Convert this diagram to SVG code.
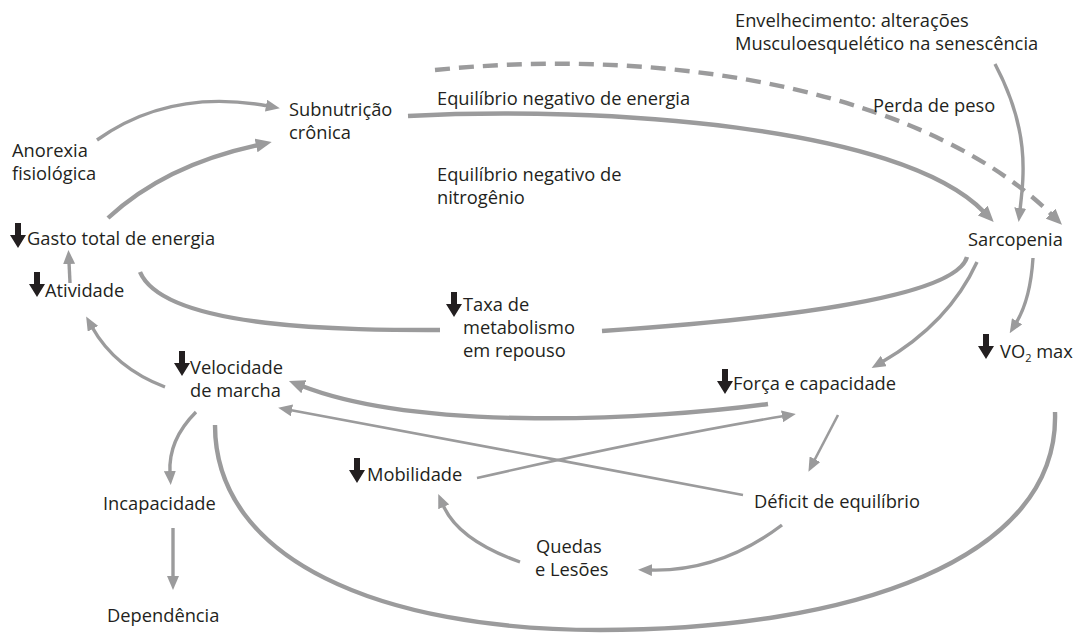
<svg xmlns="http://www.w3.org/2000/svg" width="1086" height="633" viewBox="0 0 1086 633">
<defs>
<style>
.t{font-family:"Open Sans","Liberation Sans",sans-serif;font-size:18.3px;fill:#231f20}
.c{fill:none;stroke:#9b9b9c;stroke-linecap:butt}
.w1{stroke-width:2.6}
.w2{stroke-width:3.4}
.w3{stroke-width:4.4}
.d{stroke-dasharray:15 9}
.da{fill:#231f20}
</style>
<marker id="ah" viewBox="0 0 14 12" refX="2" refY="6" markerWidth="14" markerHeight="12" markerUnits="userSpaceOnUse" orient="auto"><path d="M0,0 L14,6 L0,12 Z" fill="#9b9b9c"/></marker>
<marker id="ahL" viewBox="0 0 16 14" refX="2" refY="7" markerWidth="16" markerHeight="14" markerUnits="userSpaceOnUse" orient="auto"><path d="M0,0 L16,7 L0,14 Z" fill="#9b9b9c"/></marker>
<path id="down" d="M-3,0 h6 v12 h5 l-8,13 l-8,-13 h5 z"/>
</defs>
<rect width="1086" height="633" fill="#fff"/>
<g id="connectors">
<path class="c w2" d="M97,140 Q170,88 268,106" marker-end="url(#ah)"/>
<path class="c w3" d="M108,218 Q165,165 258,145" marker-end="url(#ahL)"/>
<path class="c w3" d="M408,116 C600,106 900,125 984,212" marker-end="url(#ahL)"/>
<path class="c w3 d" d="M435,70 C680,45 930,95 1052,215" marker-end="url(#ahL)"/>
<path class="c w2" d="M995,64 C1030,130 1024,175 1020,210" marker-end="url(#ah)"/>
<path class="c w3" d="M140,272 C165,330 350,330 440,330"/>
<path class="c w3" d="M602,331 C760,320 955,300 967,257"/>
<path class="c w2" d="M977,262 C955,310 920,340 882,362" marker-end="url(#ah)"/>
<path class="c w2" d="M1033,258 C1031,290 1024,310 1016,323" marker-end="url(#ah)"/>
<path class="c w3" d="M215,425 C215,560 380,630 600,630 C850,630 1060,560 1055,412"/>
<path class="c w3" d="M768,404 C650,420 420,432 302,386" marker-end="url(#ahL)"/>
<path class="c w1" d="M743,495 C600,468 400,430 290,410" marker-end="url(#ah)"/>
<path class="c w1" d="M477,478 C600,450 700,430 784,416" marker-end="url(#ah)"/>
<path class="c w1" d="M838,415 L814,461" marker-end="url(#ah)"/>
<path class="c w2" d="M782,525 Q720,572 650,570" marker-end="url(#ah)"/>
<path class="c w2" d="M520,562 Q458,540 443,505" marker-end="url(#ah)"/>
<path class="c w2" d="M196,412 Q168,440 170,473" marker-end="url(#ah)"/>
<path class="c w2" d="M173,528 L173,578" marker-end="url(#ah)"/>
<path class="c w2" d="M165,387 Q115,368 92,327" marker-end="url(#ah)"/>
<path class="c w2" d="M70,283 L69,262" marker-end="url(#ah)"/>
</g>
<g id="envelhecimento"><text class="t" x="735" y="27">Envelhecimento: alterações</text><text class="t" x="735" y="50">Musculoesquelético na senescência</text></g>
<g id="subnutricao"><text class="t" x="289" y="116">Subnutrição</text><text class="t" x="289" y="139">crônica</text></g>
<g id="eq-energia"><text class="t" x="437" y="105">Equilíbrio negativo de energia</text></g>
<g id="perda-peso"><text class="t" x="873" y="112">Perda de peso</text></g>
<g id="anorexia"><text class="t" x="12" y="157">Anorexia</text><text class="t" x="12" y="180">fisiológica</text></g>
<g id="eq-nitrogenio"><text class="t" x="437" y="181">Equilíbrio negativo de</text><text class="t" x="437" y="204">nitrogênio</text></g>
<g id="gasto"><use href="#down" class="da" x="18" y="223"/><text class="t" x="27" y="245">Gasto total de energia</text></g>
<g id="sarcopenia"><text class="t" x="968" y="246">Sarcopenia</text></g>
<g id="atividade"><use href="#down" class="da" x="37" y="272"/><text class="t" x="45" y="297">Atividade</text></g>
<g id="taxa"><use href="#down" class="da" x="454" y="292"/><text class="t" x="463" y="311">Taxa de</text><text class="t" x="463" y="334">metabolismo</text><text class="t" x="463" y="357">em repouso</text></g>
<g id="vo2"><use href="#down" class="da" x="986" y="334"/><text class="t" x="1000" y="358">VO<tspan font-size="11" dy="4">2</tspan><tspan dy="-4">  max</tspan></text></g>
<g id="velocidade"><use href="#down" class="da" x="182" y="351"/><text class="t" x="190" y="374">Velocidade</text><text class="t" x="190" y="397">de marcha</text></g>
<g id="forca"><use href="#down" class="da" x="725" y="369"/><text class="t" x="733" y="390">Força e capacidade</text></g>
<g id="mobilidade"><use href="#down" class="da" x="357" y="458"/><text class="t" x="367" y="481">Mobilidade</text></g>
<g id="incapacidade"><text class="t" x="103" y="510">Incapacidade</text></g>
<g id="deficit"><text class="t" x="754" y="508">Déficit de equilíbrio</text></g>
<g id="quedas"><text class="t" x="536" y="553">Quedas</text><text class="t" x="535" y="576">e Lesões</text></g>
<g id="dependencia"><text class="t" x="107" y="622">Dependência</text></g>
</svg>
